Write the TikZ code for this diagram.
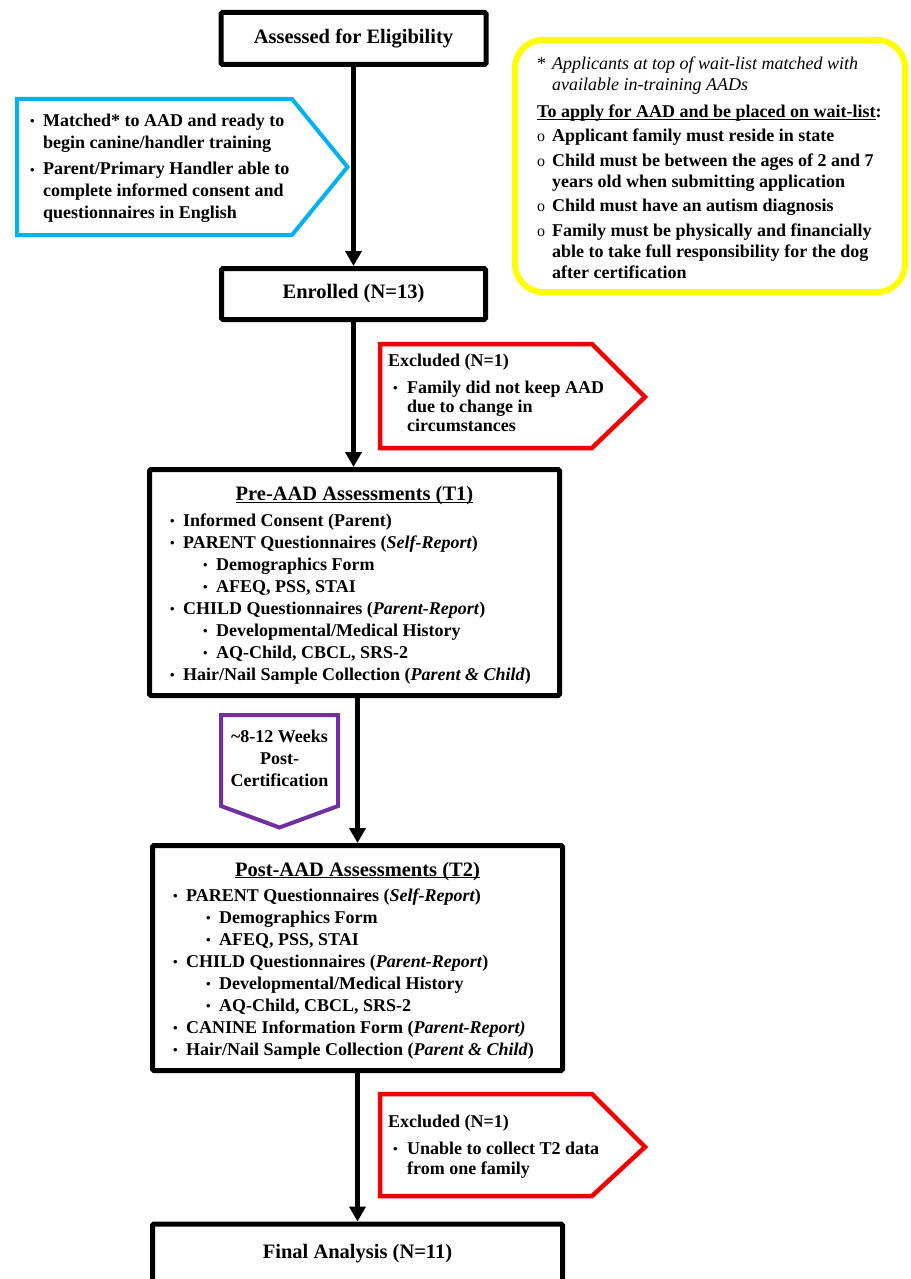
\documentclass[tikz,border=0pt]{standalone}
\usepackage{fontspec}
\setmainfont{Liberation Serif}
\usepackage{tikz}
\usetikzlibrary{positioning, arrows.meta}
\usepackage{xcolor}
\definecolor{aqua}{RGB}{0,176,240}
\definecolor{violet}{RGB}{112,48,160}
\definecolor{signred}{RGB}{240,0,0}
\definecolor{lemon}{RGB}{255,255,0}

\newcommand\itemdot{\makebox[13pt][l]{\raisebox{0.5pt}{\fontsize{13}{13}\selectfont\textbullet}}}
\newcommand\subdot{\hspace*{33pt}\itemdot}
\newcommand\reddot{\hspace*{5pt}\makebox[14pt][l]{\raisebox{0.5pt}{\fontsize{13}{13}\selectfont\textbullet}}}
\newcommand\circdot{\makebox[15pt][l]{\fontsize{16}{16}\selectfont\mdseries o}}

\begin{document}
\begin{tikzpicture}[x=1pt, y=-1pt,
  box/.style={draw, line width=5pt, rounded corners=1.5pt, fill=white, font=\fontsize{20.5}{24}\selectfont\bfseries},
  flow/.style={line width=5pt, -{Triangle[length=15pt, width=16pt]}},
  lst/.style={anchor=north west, inner sep=0pt, align=left, font=\fontsize{18}{22}\selectfont\bfseries},
  head/.style={anchor=base, inner sep=0pt, font=\fontsize{20.5}{24}\selectfont\bfseries},
  aquabox/.style={draw=aqua, line width=4pt, fill=white},
  redbox/.style={draw=signred, line width=4.5pt, fill=white},
  violetbox/.style={draw=violet, line width=4pt, fill=white},
  lemonbox/.style={draw=lemon, line width=6pt, rounded corners=28pt, fill=white}]
\useasboundingbox (0,0) rectangle (910,1279);
\clip (0,0) rectangle (910,1279);

\node[box, minimum width=265pt, minimum height=52pt] (elig) at (353.5,38.5) {Assessed for Eligibility};
\node[box, minimum width=264pt, minimum height=51pt] (enrol) at (353.5,294) {Enrolled (N=13)};
\node[box, minimum width=410pt, minimum height=226pt] (pre) at (354.5,582.5) {};
\node[box, minimum width=410pt, minimum height=225pt] (post) at (357.5,958) {};
\node[box, minimum width=410pt, minimum height=60pt] (final) at (357.5,1254) {Final Analysis (N=11)};

\draw[flow] (elig) -- (enrol);
\draw[flow] (enrol.south) -- (enrol.south |- pre.north);
\draw[flow] (pre.south -| post.north) -- (post.north);
\draw[flow] (post) -- (final);

% 条件
\draw[aquabox] (17,99) -- (292,99) -- (347.5,167) -- (292,235) -- (17,235) -- cycle;
\node[lst] (match) at (30,113.5) {\itemdot Matched* to AAD and ready to\\
\hspace*{13pt}begin canine/handler training\\[4.5pt]
\itemdot Parent/Primary Handler able to\\
\hspace*{13pt}complete informed consent and\\
\hspace*{13pt}questionnaires in English};

\draw[lemonbox] (515,40) rectangle (905,292);
\node[lst, font=\fontsize{18}{21}\selectfont\bfseries] (rules) at (537,56.5) {\makebox[15pt][l]{\mdseries *}\textit{\mdseries Applicants at top of wait-list matched with}\\
\hspace*{15pt}\textit{\mdseries available in-training AADs}\\[6pt]
\underbar{To apply for AAD and be placed on wait-list}:\\[3.5pt]
\circdot Applicant family must reside in state\\[3.5pt]
\circdot Child must be between the ages of 2 and 7\\
\hspace*{15pt}years old when submitting application\\[3.5pt]
\circdot Child must have an autism diagnosis\\[3.5pt]
\circdot Family must be physically and financially\\
\hspace*{15pt}able to take full responsibility for the dog\\
\hspace*{15pt}after certification};

% 除外
\draw[redbox] (380,344) -- (592,344) -- (645,397) -- (592,448) -- (380,448) -- cycle;
\node[lst, font=\fontsize{18}{19}\selectfont\bfseries] (excl1) at (388,353.5) {Excluded (N=1)\\[8pt]
\reddot Family did not keep AAD\\
\hspace*{19pt}due to change in\\
\hspace*{19pt}circumstances};

\draw[redbox] (380,1094) -- (592,1094) -- (645,1147) -- (592,1196) -- (380,1196) -- cycle;
\node[lst, font=\fontsize{18}{20}\selectfont\bfseries] (excl2) at (388,1114.5) {Excluded (N=1)\\[7pt]
\reddot Unable to collect T2 data\\
\hspace*{19pt}from one family};

\draw[violetbox] (221,715) -- (338,715) -- (338,806) -- (279.5,827.5) -- (221,806) -- cycle;
\node[lst, anchor=north, align=center] (weeks) at (279.5,729.5) {\textasciitilde 8-12 Weeks\\ Post-\\ Certification};

% 評価
\node[head] (pretitle) at (354.5,500.5) {\underbar{Pre-AAD Assessments (T1)}};
\node[lst] (prelist) at (170,513.5) {\itemdot Informed Consent (Parent)\\
\itemdot PARENT Questionnaires (\textit{Self-Report})\\
\subdot Demographics Form\\
\subdot AFEQ, PSS, STAI\\
\itemdot CHILD Questionnaires (\textit{Parent-Report})\\
\subdot Developmental/Medical History\\
\subdot AQ-Child, CBCL, SRS-2\\
\itemdot Hair/Nail Sample Collection (\textit{Parent \& Child})};

\node[head] (posttitle) at (357.5,876) {\underbar{Post-AAD Assessments (T2)}};
\node[lst] (postlist) at (173,888.5) {\itemdot PARENT Questionnaires (\textit{Self-Report})\\
\subdot Demographics Form\\
\subdot AFEQ, PSS, STAI\\
\itemdot CHILD Questionnaires (\textit{Parent-Report})\\
\subdot Developmental/Medical History\\
\subdot AQ-Child, CBCL, SRS-2\\
\itemdot CANINE Information Form (\textit{Parent-Report)}\\
\itemdot Hair/Nail Sample Collection (\textit{Parent \& Child})};
\end{tikzpicture}
\end{document}
